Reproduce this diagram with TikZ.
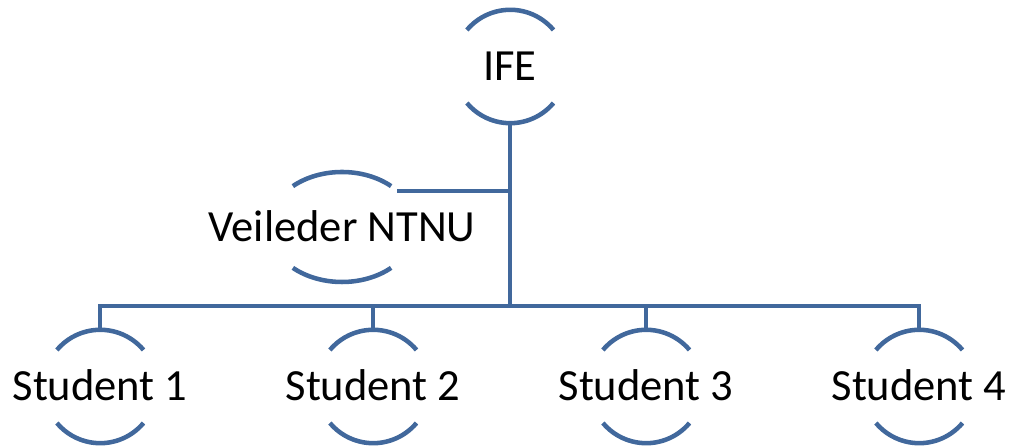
\documentclass[tikz,border=0pt]{standalone}
\usepackage{fontspec}
\setmainfont{Carlito}
\usetikzlibrary{shapes.geometric}
\definecolor{lineblue}{RGB}{65,104,156}
\begin{document}
\begin{tikzpicture}[x=0.75pt,y=0.75pt,
  circ/.style={circle,draw=none,inner sep=0pt,minimum size=84.8pt},
  oval/.style={ellipse,draw=none,inner sep=0pt,minimum width=110.1pt,minimum height=82.5pt},
  arcline/.style={draw=lineblue,line width=3.4pt},
  conn/.style={draw=lineblue,line width=3.4pt,line join=miter},
  lbl/.style={anchor=base,inner sep=0pt,font=\fontsize{33.4}{40}\selectfont}]
\useasboundingbox (0,0) rectangle (1011,448);
% nodes
\node[circ] (ife) at (510,381.5) {};
\node[oval] (vei) at (342,221) {};
\node[circ] (s1) at (100,61.5) {};
\node[circ] (s2) at (373,61.5) {};
\node[circ] (s3) at (646,61.5) {};
\node[circ] (s4) at (919,61.5) {};
\coordinate (bus) at (510,142);
\coordinate (vcon) at (397,257);
% labels
\node[lbl] (ife-t) at ([yshift=-10.75pt]ife.center) {IFE};
\node[lbl] (vei-t) at ([yshift=-10.75pt]vei.center) {Veileder NTNU};
\node[lbl] (s1-t) at ([yshift=-10.75pt]s1.center) {Student 1};
\node[lbl] (s2-t) at ([yshift=-10.75pt]s2.center) {Student 2};
\node[lbl] (s3-t) at ([yshift=-10.75pt]s3.center) {Student 3};
\node[lbl] (s4-t) at ([yshift=-10.75pt]s4.center) {Student 4};
% arcs
\foreach \n in {ife,s1,s2,s3,s4}{
  \draw[arcline] (\n.40) arc[start angle=40,end angle=140,radius=42.4pt];
  \draw[arcline] (\n.-40) arc[start angle=-40,end angle=-140,radius=42.4pt];
}
\draw[arcline] ([shift={(48:55.05pt and 41.25pt)}]vei.center) arc[start angle=48,end angle=132,x radius=55.05pt,y radius=41.25pt];
\draw[arcline] ([shift={(-48:55.05pt and 41.25pt)}]vei.center) arc[start angle=-48,end angle=-132,x radius=55.05pt,y radius=41.25pt];
% connectors
\draw[conn] (ife.south) -- (ife.south |- bus);
\draw[conn] (vcon) -- (vcon -| ife.south);
\draw[conn] (s1.north) |- (bus) -| (s4.north);
\draw[conn] (s2.north) -- (s2.north |- bus);
\draw[conn] (s3.north) -- (s3.north |- bus);
\end{tikzpicture}
\end{document}
